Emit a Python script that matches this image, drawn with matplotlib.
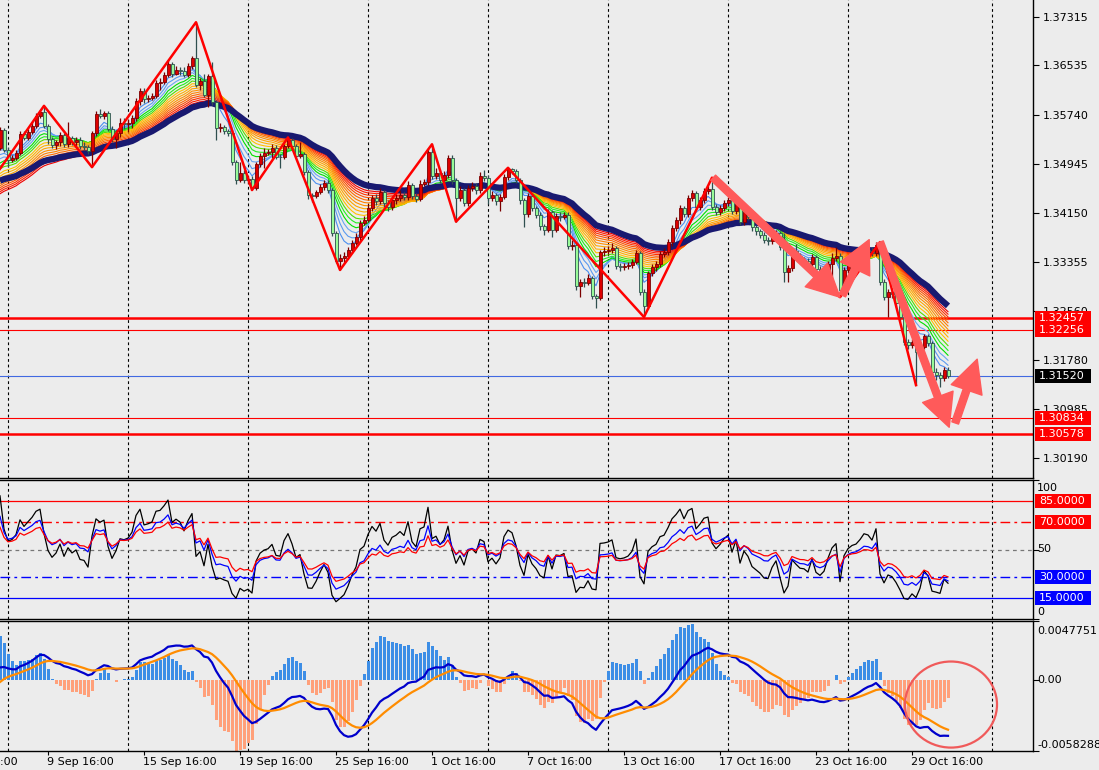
import numpy as np
import matplotlib
matplotlib.use("Agg")
import matplotlib.pyplot as plt
from matplotlib.patches import Rectangle, Ellipse, FancyArrowPatch

W, H = 1099, 770
BG = "#ececec"
plt.rcParams["font.family"] = "DejaVu Sans"
plt.rcParams["font.size"] = 8

# GBPUSD H4 candles, open of each bar = close of the previous one
first_open = 1.3520
close = np.array([
    1.3549, 1.3517, 1.3501, 1.3504, 1.3512, 1.3543, 1.3536, 1.3546, 1.3556, 1.3572,
    1.3578, 1.3556, 1.3535, 1.3525, 1.3530, 1.3541, 1.3526, 1.3536, 1.3530, 1.3533,
    1.3523, 1.3522, 1.3515, 1.3544, 1.3575, 1.3572, 1.3576, 1.3551, 1.3535, 1.3544,
    1.3560, 1.3559, 1.3561, 1.3568, 1.3596, 1.3612, 1.3599, 1.3601, 1.3604, 1.3625,
    1.3627, 1.3638, 1.3656, 1.3640, 1.3646, 1.3644, 1.3638, 1.3652, 1.3665, 1.3622,
    1.3628, 1.3606, 1.3636, 1.3594, 1.3552, 1.3554, 1.3548, 1.3544, 1.3497, 1.3468,
    1.3480, 1.3468, 1.3470, 1.3455, 1.3494, 1.3507, 1.3512, 1.3514, 1.3520, 1.3506,
    1.3505, 1.3523, 1.3533, 1.3523, 1.3507, 1.3510, 1.3481, 1.3444, 1.3443, 1.3449,
    1.3457, 1.3464, 1.3452, 1.3383, 1.3338, 1.3342, 1.3346, 1.3355, 1.3367, 1.3376,
    1.3399, 1.3404, 1.3423, 1.3439, 1.3434, 1.3449, 1.3431, 1.3425, 1.3436, 1.3439,
    1.3444, 1.3441, 1.3460, 1.3443, 1.3438, 1.3462, 1.3465, 1.3514, 1.3475, 1.3480,
    1.3468, 1.3476, 1.3504, 1.3468, 1.3439, 1.3452, 1.3431, 1.3455, 1.3459, 1.3452,
    1.3475, 1.3472, 1.3439, 1.3444, 1.3434, 1.3441, 1.3473, 1.3486, 1.3483, 1.3468,
    1.3436, 1.3413, 1.3443, 1.3423, 1.3412, 1.3394, 1.3388, 1.3417, 1.3388, 1.3410,
    1.3409, 1.3412, 1.3362, 1.3363, 1.3297, 1.3304, 1.3302, 1.3310, 1.3281, 1.3278,
    1.3352, 1.3353, 1.3355, 1.3359, 1.3330, 1.3328, 1.3329, 1.3331, 1.3336, 1.3350,
    1.3288, 1.3265, 1.3318, 1.3328, 1.3333, 1.3349, 1.3352, 1.3368, 1.3391, 1.3404,
    1.3423, 1.3413, 1.3439, 1.3447, 1.3425, 1.3436, 1.3451, 1.3454, 1.3425, 1.3417,
    1.3423, 1.3431, 1.3436, 1.3418, 1.3433, 1.3401, 1.3417, 1.3409, 1.3392, 1.3386,
    1.3380, 1.3371, 1.3370, 1.3378, 1.3383, 1.3360, 1.3320, 1.3326, 1.3354, 1.3346,
    1.3339, 1.3338, 1.3333, 1.3344, 1.3325, 1.3320, 1.3323, 1.3333, 1.3342, 1.3346,
    1.3291, 1.3323, 1.3334, 1.3339, 1.3341, 1.3347, 1.3355, 1.3354, 1.3350, 1.3363,
    1.3304, 1.3279, 1.3288, 1.3284, 1.3270, 1.3247, 1.3207, 1.3202, 1.3207, 1.3191,
    1.3199, 1.3216, 1.3205, 1.3158, 1.3154, 1.3149, 1.3162, 1.3152])
high = np.array([
    1.3554, 1.3552, 1.3521, 1.3509, 1.3516, 1.3548, 1.3547, 1.3550, 1.3562, 1.3577,
    1.3582, 1.3588, 1.3559, 1.3538, 1.3533, 1.3545, 1.3544, 1.3562, 1.3540, 1.3538,
    1.3537, 1.3530, 1.3525, 1.3548, 1.3580, 1.3583, 1.3580, 1.3579, 1.3555, 1.3549,
    1.3568, 1.3569, 1.3566, 1.3573, 1.3601, 1.3617, 1.3617, 1.3606, 1.3609, 1.3630,
    1.3633, 1.3643, 1.3662, 1.3659, 1.3652, 1.3650, 1.3650, 1.3657, 1.3668, 1.3723,
    1.3633, 1.3640, 1.3640, 1.3659, 1.3598, 1.3560, 1.3557, 1.3551, 1.3547, 1.3500,
    1.3497, 1.3484, 1.3474, 1.3474, 1.3498, 1.3512, 1.3520, 1.3519, 1.3526, 1.3524,
    1.3510, 1.3527, 1.3537, 1.3536, 1.3526, 1.3530, 1.3513, 1.3485, 1.3448, 1.3452,
    1.3462, 1.3468, 1.3468, 1.3456, 1.3386, 1.3348, 1.3352, 1.3360, 1.3372, 1.3382,
    1.3404, 1.3410, 1.3430, 1.3444, 1.3446, 1.3456, 1.3452, 1.3436, 1.3442, 1.3446,
    1.3452, 1.3449, 1.3466, 1.3464, 1.3447, 1.3468, 1.3470, 1.3520, 1.3526, 1.3488,
    1.3485, 1.3482, 1.3509, 1.3508, 1.3472, 1.3458, 1.3455, 1.3460, 1.3465, 1.3463,
    1.3481, 1.3484, 1.3476, 1.3450, 1.3448, 1.3446, 1.3478, 1.3488, 1.3488, 1.3486,
    1.3471, 1.3440, 1.3448, 1.3446, 1.3427, 1.3416, 1.3398, 1.3422, 1.3420, 1.3415,
    1.3416, 1.3417, 1.3416, 1.3372, 1.3368, 1.3309, 1.3310, 1.3316, 1.3313, 1.3285,
    1.3356, 1.3360, 1.3362, 1.3366, 1.3362, 1.3335, 1.3334, 1.3336, 1.3341, 1.3356,
    1.3353, 1.3292, 1.3322, 1.3333, 1.3338, 1.3354, 1.3358, 1.3373, 1.3396, 1.3409,
    1.3428, 1.3427, 1.3444, 1.3452, 1.3451, 1.3441, 1.3456, 1.3459, 1.3472, 1.3429,
    1.3428, 1.3436, 1.3441, 1.3440, 1.3438, 1.3436, 1.3421, 1.3420, 1.3412, 1.3395,
    1.3389, 1.3384, 1.3376, 1.3383, 1.3388, 1.3386, 1.3383, 1.3331, 1.3359, 1.3365,
    1.3350, 1.3344, 1.3342, 1.3349, 1.3347, 1.3330, 1.3328, 1.3338, 1.3351, 1.3360,
    1.3350, 1.3328, 1.3339, 1.3344, 1.3346, 1.3352, 1.3360, 1.3362, 1.3360, 1.3368,
    1.3368, 1.3308, 1.3293, 1.3293, 1.3288, 1.3274, 1.3251, 1.3212, 1.3211, 1.3212,
    1.3204, 1.3220, 1.3219, 1.3208, 1.3164, 1.3158, 1.3167, 1.3167])
low = np.array([
    1.3516, 1.3513, 1.3490, 1.3497, 1.3500, 1.3508, 1.3533, 1.3533, 1.3543, 1.3552,
    1.3569, 1.3552, 1.3527, 1.3520, 1.3519, 1.3523, 1.3522, 1.3522, 1.3524, 1.3522,
    1.3518, 1.3516, 1.3510, 1.3489, 1.3540, 1.3568, 1.3566, 1.3547, 1.3530, 1.3520,
    1.3538, 1.3550, 1.3546, 1.3552, 1.3564, 1.3590, 1.3593, 1.3594, 1.3597, 1.3600,
    1.3614, 1.3623, 1.3634, 1.3635, 1.3638, 1.3638, 1.3634, 1.3635, 1.3648, 1.3618,
    1.3614, 1.3602, 1.3586, 1.3590, 1.3533, 1.3545, 1.3543, 1.3540, 1.3493, 1.3462,
    1.3465, 1.3464, 1.3462, 1.3452, 1.3452, 1.3490, 1.3488, 1.3508, 1.3503, 1.3502,
    1.3488, 1.3502, 1.3520, 1.3518, 1.3503, 1.3504, 1.3476, 1.3438, 1.3432, 1.3439,
    1.3445, 1.3452, 1.3448, 1.3378, 1.3334, 1.3323, 1.3336, 1.3340, 1.3350, 1.3363,
    1.3370, 1.3395, 1.3400, 1.3418, 1.3428, 1.3430, 1.3425, 1.3419, 1.3420, 1.3430,
    1.3434, 1.3436, 1.3436, 1.3438, 1.3433, 1.3434, 1.3458, 1.3460, 1.3470, 1.3470,
    1.3463, 1.3464, 1.3472, 1.3462, 1.3401, 1.3434, 1.3426, 1.3427, 1.3450, 1.3446,
    1.3448, 1.3466, 1.3430, 1.3434, 1.3428, 1.3418, 1.3437, 1.3469, 1.3478, 1.3464,
    1.3430, 1.3392, 1.3408, 1.3418, 1.3407, 1.3388, 1.3380, 1.3384, 1.3376, 1.3384,
    1.3402, 1.3405, 1.3357, 1.3355, 1.3290, 1.3279, 1.3296, 1.3298, 1.3276, 1.3262,
    1.3274, 1.3346, 1.3349, 1.3351, 1.3325, 1.3322, 1.3323, 1.3325, 1.3326, 1.3332,
    1.3282, 1.3247, 1.3260, 1.3313, 1.3322, 1.3328, 1.3344, 1.3347, 1.3362, 1.3386,
    1.3398, 1.3408, 1.3408, 1.3434, 1.3420, 1.3420, 1.3431, 1.3446, 1.3420, 1.3412,
    1.3411, 1.3418, 1.3426, 1.3413, 1.3414, 1.3396, 1.3396, 1.3404, 1.3386, 1.3380,
    1.3374, 1.3366, 1.3364, 1.3365, 1.3373, 1.3355, 1.3304, 1.3304, 1.3321, 1.3341,
    1.3334, 1.3332, 1.3328, 1.3329, 1.3320, 1.3315, 1.3316, 1.3318, 1.3304, 1.3337,
    1.3279, 1.3286, 1.3318, 1.3329, 1.3334, 1.3336, 1.3342, 1.3347, 1.3345, 1.3346,
    1.3299, 1.3274, 1.3247, 1.3278, 1.3264, 1.3241, 1.3202, 1.3196, 1.3197, 1.3137,
    1.3186, 1.3195, 1.3200, 1.3153, 1.3146, 1.3134, 1.3144, 1.3148])

# horizontal lines
levels_thick = [1.32457, 1.30578]
levels_thin = [1.32256, 1.30834]
bid = 1.31520
price_ticks = [1.37315, 1.36535, 1.35740, 1.34945, 1.34150,
               1.33355, 1.32560, 1.31780, 1.30985, 1.30190]

# zigzag pivots
zz_bar = [-2, 11, 23, 49, 63, 72, 85, 108, 114, 127, 161, 178, 210, 220, 229]
zz_price = [1.3468, 1.3588, 1.3489, 1.3723, 1.3452, 1.3537, 1.3323, 1.3526,
            1.3401, 1.3488, 1.3247, 1.3472, 1.3279, 1.3368, 1.3137]

# hand drawn arrows: (bar, price) -> (bar, price)
arrows = [((178.3, 1.3472), (210.0, 1.3279)),
          ((210.6, 1.3282), (217.3, 1.3372)),
          ((220.0, 1.3368), (237.3, 1.3069)),
          ((238.8, 1.3076), (244.3, 1.3179))]

# moving average ribbon
ribbon_periods = [5, 7, 9, 11, 13, 15, 17, 19, 21, 23, 25, 27, 29, 31, 33, 35]
ribbon_seed = [1.3501, 1.3496, 1.3491, 1.3485, 1.3481, 1.3477, 1.3470, 1.3466,
               1.3462, 1.3458, 1.3455, 1.3452, 1.3449, 1.3446, 1.3443, 1.3440]
ribbon_colors = ["#4a8ff0", "#5a9af0", "#6aa6f0", "#00e000", "#22ee22", "#55dd00",
                 "#ffc000", "#ffb000", "#ffa500", "#ff9000", "#ff8000", "#ff6a00",
                 "#ff5000", "#ff3000", "#ff1a00", "#ee0000"]
navy_period = 40
navy_seed = 1.3463

rsi_periods = [7, 14, 21]
rsi_start = [84, 69, 62]
rsi_colors = ["black", "#0000ff", "#ff0000"]

macd_periods = [12, 26, 9]
macd_seed = [1.3495, 1.3489, -0.0005]
macd_top, macd_bottom = 0.0047751, -0.0058288

time_bars = [-12, 12, 36, 60, 84, 108, 132, 156, 180, 204, 228]
time_labels = ["3 Sep 16:00", "9 Sep 16:00", "15 Sep 16:00", "19 Sep 16:00",
               "25 Sep 16:00", "1 Oct 16:00", "7 Oct 16:00", "13 Oct 16:00",
               "17 Oct 16:00", "23 Oct 16:00", "29 Oct 16:00"]
grid_bars = [2, 32, 62, 92, 122, 152, 182, 212, 248]


def ema(x, n, seed):
    a = 2.0 / (n + 1)
    out = np.empty(len(x))
    prev = seed
    for i, v in enumerate(x):
        prev = prev + a * (v - prev)
        out[i] = prev
    return out


def rsi(c, prev0, n, start, move=0.0012):
    d = np.diff(np.concatenate([[prev0], c]))
    ag, al = move * start / 100, move * (100 - start) / 100
    out = np.empty(len(c))
    for i, v in enumerate(d):
        ag = (ag * (n - 1) + max(v, 0)) / n
        al = (al * (n - 1) + max(-v, 0)) / n
        out[i] = 100 * ag / (ag + al)
    return out


fig = plt.figure(figsize=(W / 100, H / 100), dpi=100, facecolor=BG)


def panel(top, bottom):
    ax = fig.add_axes([0, 1 - bottom / H, 1033 / W, (bottom - top) / H], facecolor=BG)
    ax.set_xlim(0, 1033 / 4)
    ax.spines["left"].set_visible(False)
    for s in ("top", "bottom", "right"):
        ax.spines[s].set_linewidth(1.0)
    ax.yaxis.tick_right()
    ax.tick_params(axis="y", direction="out", length=4, pad=3, labelsize=8)
    ax.set_xticks([])
    for b in grid_bars:
        ax.axvline(b, color="black", lw=0.8, ls=(0, (2.5, 2.5)), zorder=1)
    return ax


def tag(ax, y, text, color, half):
    tr = ax.get_yaxis_transform()
    ax.add_patch(Rectangle((1035 / 1033, y - half), 56 / 1033, 2 * half, transform=tr,
                           facecolor=color, edgecolor="none", clip_on=False, zorder=8))
    ax.text(1039 / 1033, y, text, transform=tr, color="white", va="center", ha="left",
            fontsize=8, zorder=9, clip_on=False)


ax1 = panel(0, 478)
ax2 = panel(480, 619)
ax3 = panel(621, 751)
ax1.spines["top"].set_visible(False)

# main price chart
x = np.arange(len(close))
opn = np.concatenate([[first_open], close[:-1]])
ax1.set_ylim(1.29871, 1.37589)
ax1.set_yticks(price_ticks, labels=[f"{v:.5f}" for v in price_ticks])

for v in levels_thick:
    ax1.axhline(v, color="#ff0000", lw=1.8, zorder=1.5)
for v in levels_thin:
    ax1.axhline(v, color="#ff0000", lw=0.8, zorder=1.5)
ax1.axhline(bid, color="#4169e1", lw=0.8, zorder=1.5)

for p, s, c in zip(ribbon_periods, ribbon_seed, ribbon_colors):
    ax1.plot(x, ema(close, p, s), color=c, lw=0.8, zorder=2)
ax1.plot(x, ema(close, navy_period, navy_seed), color="#191970", lw=4.5, zorder=3,
         solid_capstyle="butt")

up = close >= opn
body_lo = np.minimum(opn, close)
body_h = np.maximum(np.abs(close - opn), 0.00004)
ax1.vlines(x[up], low[up], high[up], color="#7a0000", lw=0.9, zorder=4)
ax1.vlines(x[~up], low[~up], high[~up], color="#2f4f4f", lw=0.9, zorder=4)
ax1.bar(x[up], body_h[up], bottom=body_lo[up], width=0.75, color="#dd0000",
        edgecolor="#7a0000", lw=0.6, zorder=5)
ax1.bar(x[~up], body_h[~up], bottom=body_lo[~up], width=0.75, color="#98fb98",
        edgecolor="#2f4f4f", lw=0.6, zorder=5)

ax1.plot(zz_bar, zz_price, color="#ff0000", lw=1.8, zorder=6)
for a, b in arrows:
    ax1.add_patch(FancyArrowPatch(a, b, arrowstyle="simple,head_length=1.3,head_width=1.3,tail_width=0.28",
                                  mutation_scale=18, color="#ff5a5a", shrinkA=0, shrinkB=0, zorder=7))

ph = 7 * (1.37589 - 1.29871) / 478
for v in levels_thick + levels_thin:
    tag(ax1, v, f"{v:.5f}", "#ff0000", ph)
tag(ax1, bid, f"{bid:.5f}", "black", ph)

# oscillator panel
ax2.set_ylim(0, 100)
ax2.set_yticks([100, 50, 0], labels=["", "", ""])
ax2.axhline(85, color="#ff0000", lw=0.9, zorder=1.5)
ax2.axhline(70, color="#ff0000", lw=1.0, ls=(0, (7, 3, 2, 3)), zorder=1.5)
ax2.axhline(50, color="#777777", lw=0.9, ls=(0, (3, 3)), zorder=1.5)
ax2.axhline(30, color="#0000ff", lw=1.0, ls=(0, (7, 3, 2, 3)), zorder=1.5)
ax2.axhline(15, color="#0000ff", lw=0.9, zorder=1.5)
for n, s, c in zip(rsi_periods, rsi_start, rsi_colors):
    ax2.plot(x, rsi(close, first_open, n, s), color=c, lw=0.9, zorder=3)
tr2 = ax2.get_yaxis_transform()
for v, t in [(94.2, "100"), (50, "50"), (5.0, "0")]:
    ax2.text(1037 / 1033, v, t, transform=tr2, va="center", ha="left", fontsize=8, clip_on=False)
rh = 7 * 100 / 139
tag(ax2, 85, "85.0000", "#ff0000", rh)
tag(ax2, 70, "70.0000", "#ff0000", rh)
tag(ax2, 30, "30.0000", "#0000ff", rh)
tag(ax2, 15, "15.0000", "#0000ff", rh)

# MACD panel
fast = ema(close, macd_periods[0], macd_seed[0])
slow = ema(close, macd_periods[1], macd_seed[1])
macd = fast - slow
signal = ema(macd, macd_periods[2], macd_seed[2])
hist = 3 * (macd - signal)
ax3.set_ylim(macd_bottom, macd_top)
ax3.set_yticks([macd_top, 0, macd_bottom], labels=["", "", ""])
ax3.bar(x, hist, width=0.75, color=np.where(hist >= 0, "#3d8ee6", "#ffa07a"), zorder=2)
ax3.plot(x, macd, color="#0000cc", lw=1.6, zorder=3)
ax3.plot(x, signal, color="#ff8c00", lw=1.6, zorder=3)
ax3.add_patch(Ellipse((237.75, -0.00204), 23, 0.00702, fill=False, edgecolor="#f05a5a",
                      lw=1.6, zorder=6))
tr3 = ax3.get_yaxis_transform()
for v, t in [(0.00396, "0.0047751"), (0.0, "0.00"), (-0.00534, "-0.0058288")]:
    ax3.text(1037 / 1033, v, t, transform=tr3, va="center", ha="left", fontsize=8, clip_on=False)

ax3.set_xticks(time_bars[1:], labels=[""] * (len(time_bars) - 1))
ax3.tick_params(axis="x", direction="out", length=3)
trx = ax3.get_xaxis_transform()
for b, t in zip(time_bars, time_labels):
    ax3.text(b - 0.25, -11 / 130, t, transform=trx, va="center", ha="left", fontsize=8,
             clip_on=False)

fig.savefig("out.png", dpi=100, facecolor=BG)
